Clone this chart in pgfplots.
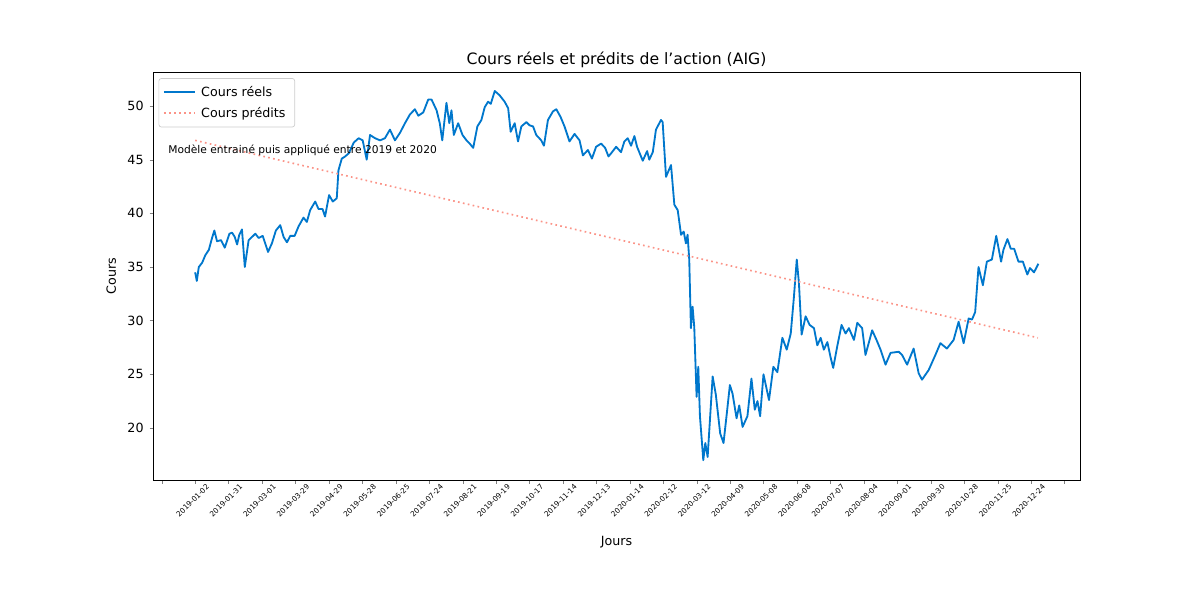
\documentclass[border=0pt]{standalone}
\usepackage{pgfplots}
\pgfplotsset{compat=1.18}
\usepackage{fontspec}
\setmainfont{DejaVu Sans}
\definecolor{blu}{RGB}{0,119,204}
\definecolor{salm}{RGB}{250,128,114}
\begin{document}
\begin{tikzpicture}[x=1pt,y=1pt]
\useasboundingbox (0,0) rectangle (720,360);
\begin{axis}[at={(91.8pt,72pt)},anchor=south west,scale only axis,
 width=556.2pt,height=244.8pt,
 xmin=-25.2,xmax=529.2,ymin=15.15,ymax=53.17,
 xtick={-20,0,20,...,520},
 xticklabels={,2019-01-02,2019-01-31,2019-03-01,2019-03-29,2019-04-29,2019-05-28,2019-06-25,2019-07-24,2019-08-21,2019-09-19,2019-10-17,2019-11-14,2019-12-13,2020-01-14,2020-02-12,2020-03-12,2020-04-09,2020-05-08,2020-06-08,2020-07-07,2020-08-04,2020-09-01,2020-09-30,2020-10-28,2020-11-25,2020-12-24,},
 xticklabel style={font=\fontsize{4.4}{5}\selectfont,rotate=45,anchor=north east,xshift=8pt,yshift=-1pt},
 ytick={20,25,...,50},
 yticklabel style={font=\fontsize{7.6}{9}\selectfont},
 /pgf/number format/assume math mode=true,
 tick align=outside, tick pos=left, major tick length=2.1pt,
 title={Cours réels et prédits de l{\char39}action (AIG)},
 title style={font=\fontsize{9.4}{11}\selectfont,yshift=-7pt},
 xlabel={Jours},ylabel={Cours},
 label style={font=\fontsize{7.6}{9}\selectfont},
 xlabel style={yshift=-3pt},
 legend style={at={(0.006,0.985)},anchor=north west,font=\fontsize{7.6}{9}\selectfont,draw=black!20,rounded corners=1.5pt,row sep=1pt,inner sep=2.5pt,
   nodes={inner xsep=3pt}},
 legend image post style={xscale=1.1},
 legend cell align=left,
 clip=false,
]
\addplot[blu,line width=1.1pt,line join=round] coordinates {
(0,34.5)(1,33.7)(2.2,35.0)(4.2,35.4)(6.1,36.1)(8.2,36.6)(10.1,37.7)(11.5,38.4)(13.1,37.4)(15.5,37.5)(17.7,36.8)(20.5,38.1)(22.1,38.2)(23.7,37.8)(25.1,37.1)(26.4,38.0)(28.0,38.5)(29.7,35.0)(32.0,37.5)(34.0,37.8)(36.0,38.1)(38.0,37.7)(40.4,37.9)(43.6,36.4)(45.9,37.2)(48.3,38.4)(50.9,38.9)(52.9,37.8)(54.9,37.3)(56.9,37.9)(59.5,37.9)(61.9,38.8)(64.8,39.6)(66.8,39.2)(68.8,40.3)(71.8,41.1)(73.8,40.4)(76.2,40.4)(77.7,39.7)(80.1,41.7)(82.3,41.1)(84.7,41.4)(85.7,44.0)(87.7,45.1)(89.7,45.3)(91.9,45.6)(94.9,46.6)(97.8,47.0)(100.2,46.8)(102.6,45.0)(104.6,47.3)(107.6,47.0)(110.6,46.8)(113.5,47.0)(116.5,47.8)(119.5,46.8)(122.5,47.5)(125.5,48.4)(128.4,49.2)(131.4,49.7)(133.5,49.1)(136.4,49.4)(139.4,50.6)(141.4,50.6)(144.4,49.6)(146.3,48.4)(147.8,46.8)(150.3,50.3)(152.0,48.4)(153.3,49.6)(154.7,47.3)(157.3,48.4)(159.9,47.3)(162.3,46.8)(164.2,46.5)(166.3,46.1)(168.8,48.1)(171.2,48.7)(173.2,49.9)(175.2,50.4)(176.8,50.2)(179.2,51.4)(182.1,51.0)(185.1,50.4)(187.2,49.8)(188.7,47.6)(191.1,48.4)(193.1,46.7)(195.1,48.1)(198.1,48.5)(200.0,48.2)(202.1,48.1)(204.0,47.3)(207.0,46.8)(208.6,46.3)(211.0,48.7)(214.0,49.5)(216.0,49.7)(218.5,49.0)(220.9,48.1)(223.9,46.7)(226.9,47.4)(229.9,46.8)(231.9,45.4)(234.9,45.9)(237.3,45.1)(239.8,46.2)(242.8,46.5)(245.2,46.1)(247.2,45.3)(248.8,45.6)(251.8,46.2)(254.7,45.7)(256.7,46.7)(258.7,47.0)(260.7,46.3)(262.7,47.2)(264.3,46.2)(267.7,44.9)(270.3,45.8)(271.6,45.0)(273.7,45.7)(275.6,47.8)(278.6,48.7)(279.6,48.5)(281.6,43.4)(284.6,44.5)(286.6,40.8)(288.6,40.3)(290.6,38.0)(292.2,38.3)(293.5,37.2)(294.5,38.0)(295.5,35.7)(296.5,29.3)(297.5,31.3)(298.5,29.4)(299.9,22.9)(300.9,25.7)(301.9,21.1)(303.9,17.0)(305.1,18.6)(306.5,17.3)(309.5,24.8)(311.4,23.1)(314.0,19.5)(316.0,18.6)(318.0,21.4)(319.8,24.0)(321.4,23.2)(323.8,20.9)(325.4,22.1)(327.4,20.1)(330.3,21.1)(332.7,24.6)(334.7,21.7)(336.3,22.5)(337.9,21.1)(339.9,25.0)(343.2,22.6)(345.8,25.7)(348.2,25.2)(351.2,28.4)(353.8,27.3)(356.2,28.8)(358.1,32.2)(359.8,35.7)(361.1,33.5)(362.7,28.7)(365.1,30.4)(367.5,29.6)(370.1,29.3)(372.1,27.7)(374.1,28.4)(376.0,27.3)(378.1,28.0)(380.0,26.6)(381.6,25.6)(384.0,27.6)(386.6,29.6)(389.0,28.8)(391.0,29.3)(394.0,28.2)(396.0,29.8)(398.9,29.3)(400.9,26.8)(404.9,29.1)(407.5,28.2)(409.9,27.3)(412.9,25.9)(415.9,27.0)(420.8,27.1)(422.8,26.8)(425.8,25.9)(429.7,27.4)(432.7,25.1)(434.7,24.5)(438.7,25.4)(442.7,26.8)(445.7,27.9)(449.6,27.4)(453.6,28.2)(456.6,29.9)(459.6,27.9)(462.6,30.2)(464.6,30.1)(466.5,30.8)(468.5,35.0)(471.1,33.3)(473.5,35.5)(476.5,35.7)(479.1,37.9)(482.0,35.5)(483.4,36.6)(485.8,37.6)(487.8,36.7)(489.8,36.7)(492.4,35.5)(495.0,35.5)(497.7,34.3)(499.3,34.9)(501.7,34.5)(504.3,35.3)
};
\addlegendentry{Cours réels}
\addplot[salm!85,line width=1pt,dotted] coordinates {(0,46.8)(126,42.2)(252,37.6)(378,33.0)(504,28.4)};
\addlegendentry{Cours prédits}
\node[anchor=west,font=\fontsize{6.4}{8}\selectfont,inner sep=0pt] at (axis cs:-16.2,45.85) {Modèle entrainé puis appliqué entre 2019 et 2020};
\end{axis}
\end{tikzpicture}
\end{document}
